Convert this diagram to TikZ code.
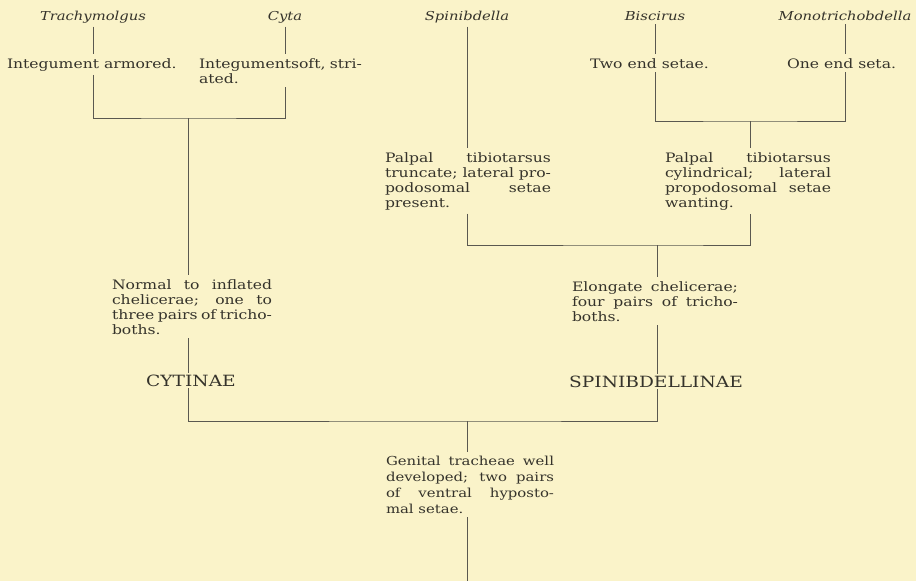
\documentclass[tikz,border=0pt]{standalone}
\usepackage{fontspec}
\setmainfont{DejaVu Serif}[FakeStretch=1.2]
\usepackage{tikz}
\definecolor{paper}{HTML}{FAF3C9}
\definecolor{ink}{HTML}{35332B}
\definecolor{rule}{HTML}{5A5850}

\begin{document}
\begin{tikzpicture}[x=1pt, y=-1pt,
  genus/.style={font=\fontsize{12.3}{15}\selectfont\itshape, text=ink, inner sep=0pt, outer xsep=0pt, outer ysep=4pt, anchor=base},
  charstate/.style={font=\fontsize{13}{15}\selectfont, text=ink, inner sep=0pt, outer xsep=0pt, outer ysep=4pt, anchor=base west},
  diagnosis/.style={charstate, text width=166pt, align=justify},
  subfam/.style={font=\fontsize{15.5}{17}\selectfont, text=ink, inner sep=0pt, outer ysep=2pt, anchor=base},
  branch/.style={rule, line width=0.7pt}]
\useasboundingbox (0,0) rectangle (916,581);
\fill[paper] (0,0) rectangle (916,581);

\node[genus] (trach) at (93,20) {Trachymolgus};
\node[genus] (cyta) at (285,20) {Cyta};
\node[genus] (spin) at (467,20) {Spinibdella};
\node[genus] (bisc) at (655,20) {Biscirus};
\node[genus] (mono) at (845,20) {Monotrichobdella};

\node[charstate] (armored) at (7,68) {Integument armored.};
\node[charstate, text width=170pt, align=left] (soft) at (199,68) {Integumentsoft, stri-\\ated.};
\node[charstate] (two) at (590,68) {Two end setae.};
\node[charstate] (one) at (787,68) {One end seta.};

\node[diagnosis] (palpL) at (385,162) {Palpal tibiotarsus\linebreak truncate; lateral pro-\linebreak podosomal setae\linebreak present.};
\node[diagnosis] (palpR) at (665,162) {Palpal tibiotarsus\linebreak cylindrical; lateral\linebreak propodosomal setae\linebreak wanting.};
\node[diagnosis, text width=160pt] (normal) at (112,289) {Normal to inflated\linebreak chelicerae; one to\linebreak three pairs of tricho-\linebreak boths.};
\node[diagnosis] (elong) at (572,291) {Elongate chelicerae;\linebreak four pairs of tricho-\linebreak boths.};
\node[subfam] (cytinae) at (191,386) {CYTINAE};
\node[subfam] (spinae) at (656,387) {SPINIBDELLINAE};
\node[diagnosis, font=\fontsize{12.4}{16}\selectfont, text width=168pt] (genital) at (386,465) {Genital tracheae well\linebreak developed; two pairs\linebreak of ventral hyposto-\linebreak mal setae.};

\coordinate (jcy) at (188,118);
\coordinate (jbi) at (750,121);
\coordinate (jsp) at (657,245);
\coordinate (jroot) at (467,421);
\coordinate (stem) at (467,581);

\draw[branch] (trach.south) -- (trach.south |- armored.north);
\draw[branch] (cyta.south) -- (cyta.south |- soft.north);
\draw[branch] (spin.south) -- (spin.south |- palpL.north);
\draw[branch] (bisc.south) -- (bisc.south |- two.north);
\draw[branch] (mono.south) -- (mono.south |- one.north);

\draw[branch] (trach.south |- armored.south) |- (jcy) -| (cyta.south |- soft.south);
\draw[branch] (jcy) -- (jcy |- normal.north);
\draw[branch] (bisc.south |- two.south) |- (jbi) -| (mono.south |- one.south);
\draw[branch] (jbi) -- (jbi |- palpR.north);
\draw[branch] (spin.south |- palpL.south) |- (jsp) -| (jbi |- palpR.south);
\draw[branch] (jsp) -- (jsp |- elong.north);
\draw[branch] (jsp |- elong.south) -- (jsp |- spinae.north);
\draw[branch] (jcy |- normal.south) -- (jcy |- cytinae.north);
\draw[branch] (jcy |- cytinae.south) |- (jroot) -| (jsp |- spinae.south);
\draw[branch] (jroot) -- (jroot |- genital.north);
\draw[branch] (jroot |- genital.south) -- (stem);
\end{tikzpicture}
\end{document}
